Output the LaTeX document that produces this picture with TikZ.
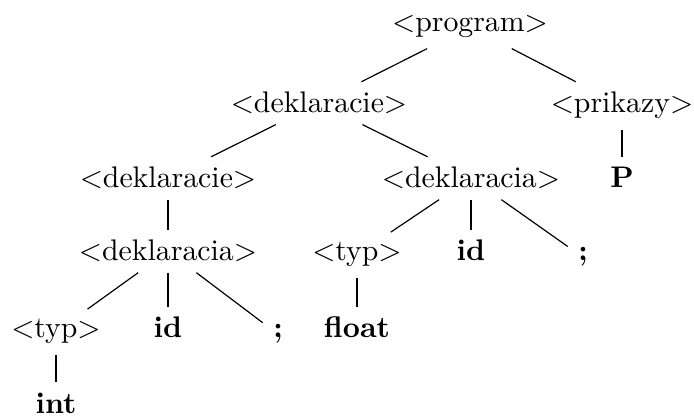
\documentclass[tikz,border=0pt]{standalone}
\usetikzlibrary{positioning}
\begin{document}
\begin{tikzpicture}[scale=1,every node/.style={anchor=base},t/.style={font=\bfseries}]
      \useasboundingbox (0,0) rectangle (8.185,4.906);

      \node (prog) at (5.543,4.529) {$<$program$>$};

      \node (dekl1) at (3.762,3.574) {$<$deklaracie$>$};
      \node (prik) at (7.336,3.574) {$<$prikazy$>$};

      \node (dekl2) at (1.981,2.689) {$<$deklaracie$>$};
      \node (dekla2) at (5.555,2.689) {$<$deklaracia$>$};
      \node [t] (p) at (7.336,2.689) {P};

      \node (dekla1) at (1.981,1.828) {$<$deklaracia$>$};
      \node (typ2) at (4.210,1.828) {$<$typ$>$};
      \node [t] (id2) at (5.555,1.828) {id};
      \node [t] (sc2) at (6.876,1.828) {;};

      \node (typ1) at (0.660,0.920) {$<$typ$>$};
      \node [t] (id1) at (1.981,0.920) {id};
      \node [t] (sc1) at (3.279,0.920) {;};
      \node [t] (float) at (4.210,0.920) {float};

      \node [t] (int) at (0.660,0.03) {int};

      \draw (prog) -- (dekl1);
      \draw (prog) -- (prik);
      \draw (dekl1) -- (dekl2);
      \draw (dekl1) -- (dekla2);
      \draw (prik) -- (p);
      \draw (dekl2) -- (dekla1);
      \draw (dekla2) -- (typ2);
      \draw (dekla2) -- (id2);
      \draw (dekla2) -- (sc2);
      \draw (dekla1) -- (typ1);
      \draw (dekla1) -- (id1);
      \draw (dekla1) -- (sc1);
      \draw (typ2) -- (float);
      \draw (typ1) -- (int);

    \end{tikzpicture}
\end{document}
